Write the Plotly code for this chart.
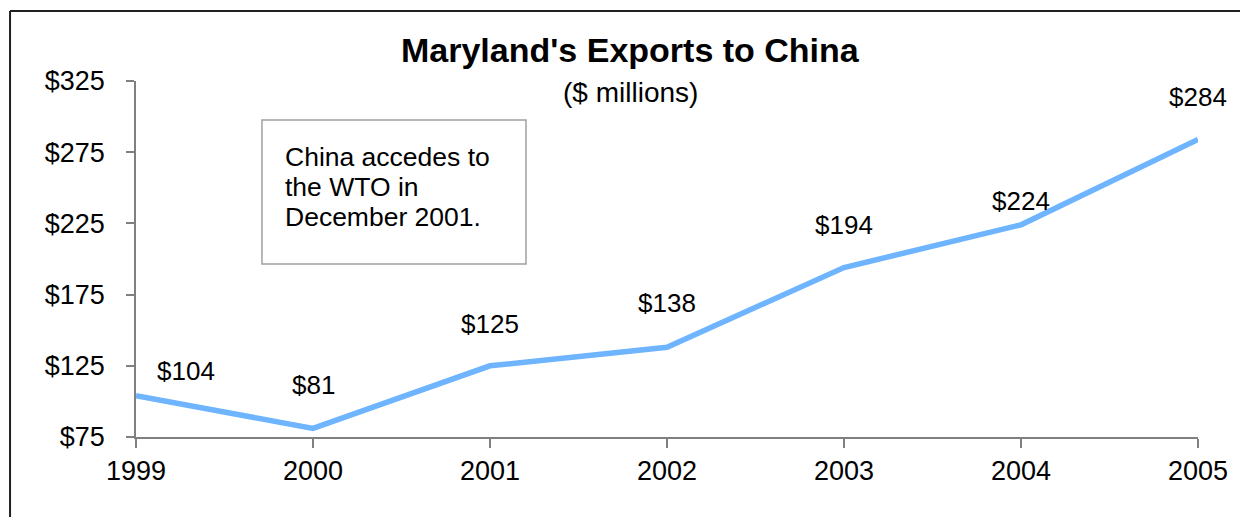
import plotly.graph_objects as go

years = [1999, 2000, 2001, 2002, 2003, 2004, 2005]
exports = [104, 81, 125, 138, 194, 224, 284]
value_labels = ["$104", "$81", "$125", "$138", "$194", "$224", "$284"]
y_tickvals = [75, 125, 175, 225, 275, 325]
y_ticktext = ["$75", "$125", "$175", "$225", "$275", "$325"]
title_text = "Maryland's Exports to China"
subtitle_text = "($ millions)"
note_lines = ["China accedes to", "the WTO in", "December 2001."]

# label offsets (pixels) – styling only
label_xshift = [50, 0, 0, 0, 0, 0, 0]
label_yshift = [25, 43, 42, 44, 43, 24, 42]

FONT = "Arial, 'Liberation Sans', sans-serif"
AXIS_COLOR = "#808080"

fig = go.Figure()
fig.add_trace(go.Scatter(
    x=years, y=exports, mode="lines",
    line=dict(color="#6EB4FF", width=5.5),
    hoverinfo="skip", showlegend=False,
))

annotations = []
for x, y, t, dx, dy in zip(years, exports, value_labels, label_xshift, label_yshift):
    annotations.append(dict(
        x=x, y=y, xref="x", yref="y", text=t, showarrow=False,
        xanchor="center", yanchor="middle", xshift=dx, yshift=dy,
        font=dict(family=FONT, size=26, color="black"),
    ))

annotations.append(dict(
    x=0.466, y=1.087, xref="paper", yref="paper", text="<b>" + title_text + "</b>",
    showarrow=False, xanchor="center", yanchor="middle",
    font=dict(family=FONT, size=34, color="black"),
))
annotations.append(dict(
    x=0.466, y=0.969, xref="paper", yref="paper", text=subtitle_text,
    showarrow=False, xanchor="center", yanchor="middle",
    font=dict(family=FONT, size=28, color="black"),
))
note_y = [0.7865, 0.7022, 0.618]
for line, ny in zip(note_lines, note_y):
    annotations.append(dict(
        x=0.1384, y=ny, xref="paper", yref="paper", text=line,
        showarrow=False, xanchor="left", yanchor="middle",
        font=dict(family=FONT, size=26.5, color="black"),
    ))

shapes = [
    # annotation box
    dict(type="rect", xref="paper", yref="paper",
         x0=0.1186, x1=0.3672, y0=0.486, y1=0.8904,
         line=dict(color="#A0A0A0", width=1.5), fillcolor="rgba(0,0,0,0)"),
    # outer frame (left and top edges visible)
    dict(type="line", xref="paper", yref="paper",
         x0=-0.1186, x1=-0.1186, y0=-0.4, y1=1.1966,
         line=dict(color="#202020", width=2)),
    dict(type="line", xref="paper", yref="paper",
         x0=-0.1186, x1=1.2, y0=1.1966, y1=1.1966,
         line=dict(color="#202020", width=2)),
]

fig.update_layout(
    width=1240, height=509,
    margin=dict(l=128, r=50, t=73, b=80),
    paper_bgcolor="white", plot_bgcolor="white",
    font=dict(family=FONT, size=26, color="black"),
    annotations=annotations, shapes=shapes,
    xaxis=dict(
        range=[1999, 2005], tickvals=years, ticktext=[str(y) for y in years],
        showgrid=False, zeroline=False, showline=True, linecolor=AXIS_COLOR, linewidth=1.5,
        ticks="outside", ticklen=9, tickcolor=AXIS_COLOR, tickwidth=1.5,
        tickfont=dict(family=FONT, size=27, color="black"), ticklabelstandoff=0,
        fixedrange=True,
    ),
    yaxis=dict(
        range=[75, 325], tickvals=y_tickvals, ticktext=y_ticktext,
        showgrid=False, zeroline=False, showline=True, linecolor=AXIS_COLOR, linewidth=1.5,
        ticks="outside", ticklen=8, tickcolor=AXIS_COLOR, tickwidth=1.5,
        tickfont=dict(family=FONT, size=27, color="black"), ticklabelstandoff=16,
        fixedrange=True,
    ),
)

fig.write_html("out.html")
